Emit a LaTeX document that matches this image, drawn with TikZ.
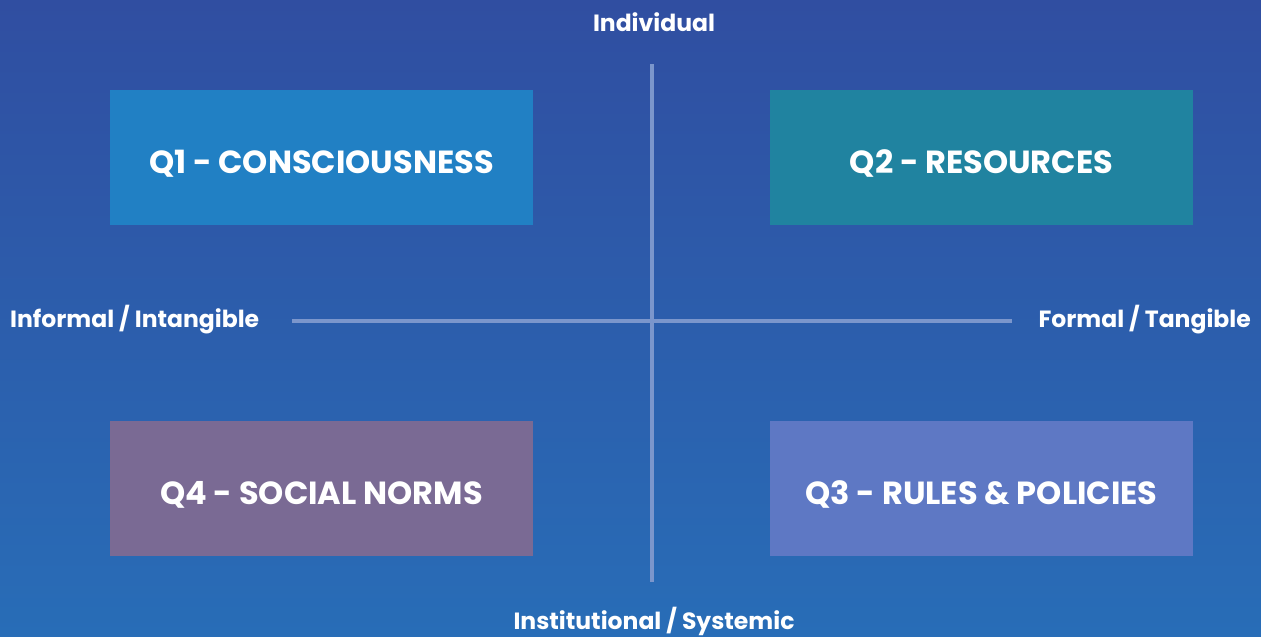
\documentclass[tikz,border=0pt]{standalone}
\usepackage{fontspec}
\setmainfont{Poppins}
\definecolor{bgtop}{HTML}{304EA1}
\definecolor{bgbot}{HTML}{286DB7}
\definecolor{qone}{HTML}{2180C4}
\definecolor{qtwo}{HTML}{2083A0}
\definecolor{qthree}{HTML}{5E78C4}
\definecolor{qfour}{HTML}{7A6A94}
\definecolor{axiscol}{HTML}{7B96CC}
\tikzset{
  quad/.style={minimum width=423pt, minimum height=135pt, inner sep=0pt, text=white, text height=31pt, text depth=0pt, font=\fontsize{32}{36}\selectfont\bfseries},
  axlabel/.style={text=white, inner sep=0pt, font=\fontsize{23.5}{28}\selectfont\bfseries},
  axisline/.style={draw=axiscol, line width=4pt}
}
\begin{document}
\begin{tikzpicture}[x=1pt,y=-1pt]
\useasboundingbox (0,0) rectangle (1261,637);
\shade[top color=bgtop, bottom color=bgbot] (0,0) rectangle (1261,637);
\node[quad, fill=qone] (q1) at (321.5,157.5) {Q1 - CONSCIOUSNESS};
\node[quad, fill=qtwo] (q2) at (981.5,157.5) {Q2 - RESOURCES};
\node[quad, fill=qfour] (q4) at (321.5,488.5) {Q4 - SOCIAL NORMS};
\node[quad, fill=qthree] (q3) at (981.5,488.5) {Q3 - RULES \& POLICIES};
\coordinate (vt) at (652,64);
\coordinate (vb) at (652,582);
\coordinate (hl) at (292,321);
\coordinate (hr) at (1012,321);
\draw[axisline] (vt) -- (vb);
\draw[axisline] (hl) -- (hr);
\node[axlabel] (top) at (654,22) {Individual};
\node[axlabel] (bot) at (654,621) {Institutional / Systemic};
\node[axlabel, anchor=west] (left) at (10,320) {Informal / Intangible};
\node[axlabel, anchor=east] (right) at (1251,320) {Formal / Tangible};
\end{tikzpicture}
\end{document}
